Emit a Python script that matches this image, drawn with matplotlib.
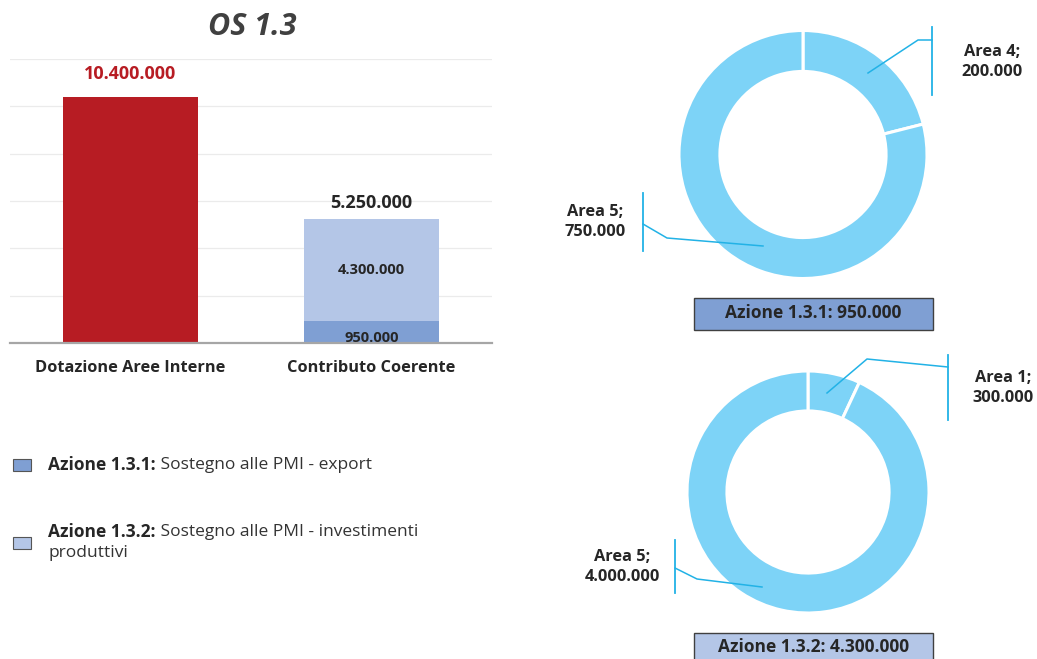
import matplotlib
matplotlib.use("Agg")
import matplotlib.pyplot as plt
from matplotlib.patches import Rectangle
from matplotlib.lines import Line2D

# ---------------- data ----------------
title = "OS 1.3"
categories = ["Dotazione Aree Interne", "Contributo Coerente"]
dotazione = [10400000, 0]
azione_131 = [0, 950000]
azione_132 = [0, 4300000]
totals = [10400000, 5250000]

donut1_labels = ["Area 4", "Area 5"]
donut1_values = [200000, 750000]
donut1_title = "Azione 1.3.1: 950.000"

donut2_labels = ["Area 1", "Area 5"]
donut2_values = [300000, 4000000]
donut2_title = "Azione 1.3.2: 4.300.000"

legend_bold = ["Azione 1.3.1:", "Azione 1.3.2:"]
legend_text = [" Sostegno alle PMI - export", " Sostegno alle PMI - investimenti"]
legend_extra = ["", "produttivi"]

# ---------------- styles ----------------
RED = "#B71C23"
LIGHT = "#B4C6E7"
MID = "#7F9FD3"
DONUT = "#7DD3F7"
LEADER = "#22B2E6"
DARK = "#262626"
FONT = "Open Sans"

W, H = 1037, 659
fig = plt.figure(figsize=(W / 100, H / 100), dpi=100)
fig.patch.set_facecolor("white")


def fx(x):
    return x / W


def fy(y):
    return 1 - y / H


def fmt(v):
    return f"{v:,.0f}".replace(",", ".")


# ---------------- bar chart ----------------
ax = fig.add_axes([fx(10), fy(343), (492 - 10) / W, (343 - 59) / H])
x = list(range(len(categories)))
bw = 0.56
ax.bar(x, dotazione, width=bw, color=RED, zorder=3)
ax.bar(x, azione_131, width=bw, color=MID, zorder=3)
ax.bar(x, azione_132, width=bw, bottom=azione_131, color=LIGHT, zorder=3)
ax.set_xlim(-0.5, 1.5)
ax.set_ylim(0, 12000000)
ax.set_yticks(range(0, 12000001, 2000000))
ax.yaxis.grid(True, color="#EBEBEB", linewidth=0.9, zorder=0)
ax.tick_params(axis="y", left=False, labelleft=False)
ax.tick_params(axis="x", bottom=False, pad=9)
ax.set_xticks(x)
ax.set_xticklabels(categories, fontfamily=FONT, fontweight="bold",
                   fontsize=11.8, color=DARK)
for s in ["top", "right", "left"]:
    ax.spines[s].set_visible(False)
ax.spines["bottom"].set_color("#A6A6A6")
ax.spines["bottom"].set_linewidth(1.6)
ax.spines["bottom"].set_zorder(4)

ax.text(x[0], totals[0] + 600000, fmt(totals[0]), ha="center", va="bottom",
        color=RED, fontfamily=FONT, fontweight="bold", fontsize=13)
ax.text(x[1], totals[1] + 300000, fmt(totals[1]), ha="center", va="bottom",
        color=DARK, fontfamily=FONT, fontweight="bold", fontsize=13)
ax.text(x[1], azione_131[1] + azione_132[1] / 2, fmt(azione_132[1]),
        ha="center", va="center", color=DARK, fontfamily=FONT,
        fontweight="bold", fontsize=10.5)
t950 = ax.text(x[1], azione_131[1] / 2 - 280000, fmt(azione_131[1]),
               ha="center", va="center", color=DARK, fontfamily=FONT,
               fontweight="bold", fontsize=10.5, zorder=5)
t950.set_clip_on(True)

fig.text(fx(252), fy(27), title, ha="center", va="center", color="#404040",
         fontfamily=FONT, fontweight="bold", fontstyle="italic", fontsize=22)

# ---------------- legend ----------------
renderer = fig.canvas.get_renderer()
leg_rows = [(465, MID), (543, LIGHT)]
for i, (yy, col) in enumerate(leg_rows):
    fig.add_artist(Rectangle((fx(13), fy(yy + 6)), 18 / W, 12 / H,
                             transform=fig.transFigure, facecolor=col,
                             edgecolor="#555555", linewidth=0.8))
    ty = yy if i == 0 else 532
    tb = fig.text(fx(48), fy(ty), legend_bold[i], ha="left", va="center",
                  fontfamily=FONT, fontweight="bold", fontsize=12.5, color=DARK)
    bb = tb.get_window_extent(renderer)
    fig.text(bb.x1 / W, fy(ty), legend_text[i], ha="left", va="center",
             fontfamily=FONT, fontsize=12.5, color="#333333")
    if legend_extra[i]:
        fig.text(fx(48), fy(ty + 21), legend_extra[i], ha="left", va="center",
                 fontfamily=FONT, fontsize=12.5, color="#333333")


# ---------------- donuts ----------------
def donut(cx, cy, r, values):
    dax = fig.add_axes([fx(cx - r), fy(cy + r), 2 * r / W, 2 * r / H])
    dax.pie(values, startangle=90, counterclock=False, radius=1,
            colors=[DONUT] * len(values),
            wedgeprops=dict(width=0.33, edgecolor="white", linewidth=2.2))
    dax.set_xlim(-1, 1)
    dax.set_ylim(-1, 1)
    dax.set_aspect("equal")
    dax.axis("off")
    return dax


def leader(points, bracket_x, bracket_y0, bracket_y1):
    xs = [fx(p[0]) for p in points]
    ys = [fy(p[1]) for p in points]
    fig.add_artist(Line2D(xs, ys, transform=fig.transFigure, color=LEADER,
                          linewidth=1.1))
    fig.add_artist(Line2D([fx(bracket_x)] * 2, [fy(bracket_y0), fy(bracket_y1)],
                          transform=fig.transFigure, color=LEADER, linewidth=1.3))


def label(cx, cy, name, val):
    fig.text(fx(cx), fy(cy), f"{name};\n{fmt(val)}", ha="center", va="center",
             fontfamily=FONT, fontweight="bold", fontsize=11.8, color=DARK,
             linespacing=1.35)


def box(x0, y0, x1, y1, col, text, ty):
    fig.add_artist(Rectangle((fx(x0), fy(y1)), (x1 - x0) / W, (y1 - y0) / H,
                             transform=fig.transFigure, facecolor=col,
                             edgecolor="#404040", linewidth=1.0))
    fig.text(fx((x0 + x1) / 2), fy(ty), text, ha="center", va="center",
             fontfamily=FONT, fontweight="bold", fontsize=12.5, color=DARK)


donut(803, 154.5, 124, donut1_values)
leader([(868, 73), (918, 40), (932, 40)], 932, 27, 95)
label(992, 62, donut1_labels[0], donut1_values[0])
leader([(763, 246), (667, 238), (643, 224)], 643, 193, 251)
label(595, 222, donut1_labels[1], donut1_values[1])
box(694, 298, 933, 330, MID, donut1_title, 313)

donut(808, 492, 121, donut2_values)
leader([(827, 393), (867, 359), (948, 367)], 948, 355, 420)
label(1003, 388, donut2_labels[0], donut2_values[0])
leader([(762, 587), (697, 579), (675, 568)], 675, 540, 593)
label(622, 567, donut2_labels[1], donut2_values[1])
box(694, 633, 933, 663, LIGHT, donut2_title, 647)

fig.savefig("out.png", dpi=100, facecolor="white")
